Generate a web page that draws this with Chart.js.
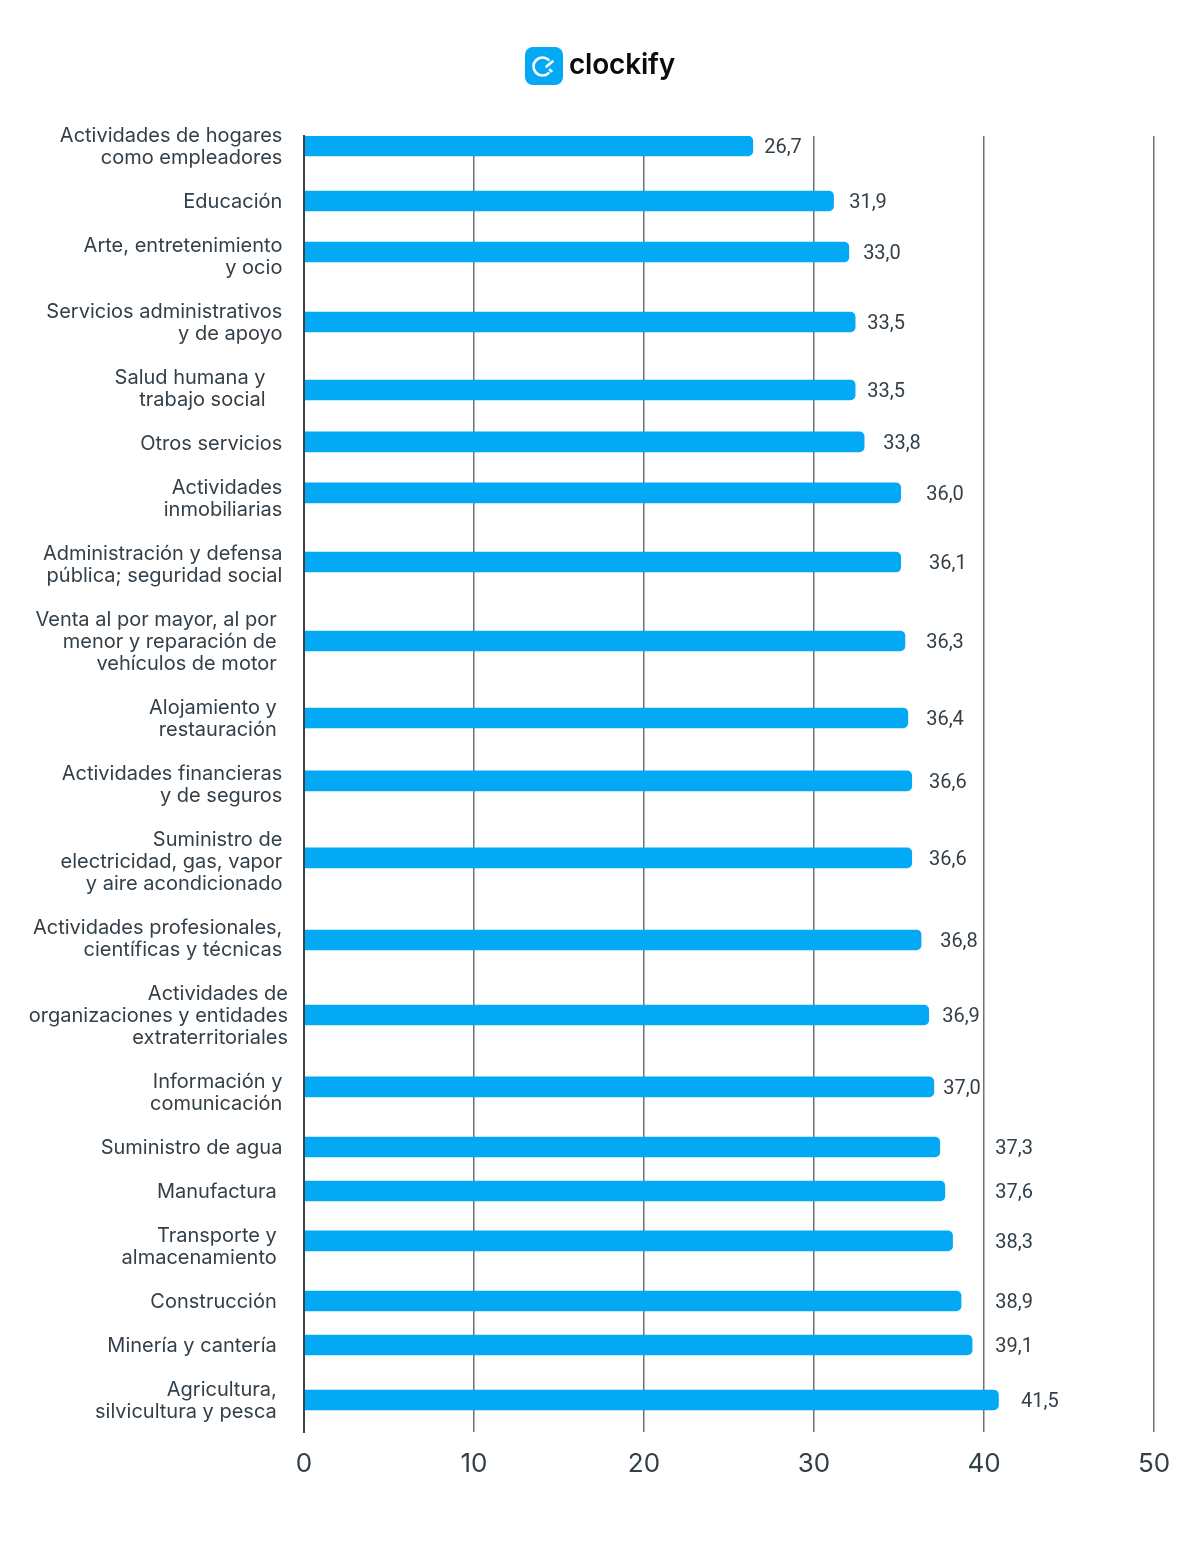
<!DOCTYPE html>
<html>
<head>
<meta charset="utf-8">
<title>Clockify</title>
<script src="https://cdn.jsdelivr.net/npm/chart.js@4"></script>
<style>
  html, body { margin: 0; padding: 0; background: #fff; }
  #wrap { position: relative; width: 1200px; height: 1548px; }
  #logo { position: absolute; left: 525px; top: 47px; width: 38px; height: 38px; }
  #brand { position: absolute; left: 569px; top: 45px; font: 600 28px/38px Inter, sans-serif; color: #0b0b0b; letter-spacing: -0.2px; }
</style>
</head>
<body>
<div id="wrap">
  <canvas id="hours" width="1200" height="1548"></canvas>
  <svg id="logo" viewBox="0 0 38 38">
    <rect width="38" height="38" rx="8" fill="#03a9f4"/>
    <path d="M23.5 12.8 A9 9 0 1 0 23.5 26.2" fill="none" stroke="#fff" stroke-width="2.6" stroke-linecap="round"/>
    <path d="M27.5 14.5 L21.5 19.5" fill="none" stroke="#fff" stroke-width="2.6" stroke-linecap="round"/>
    <path d="M25 23 L26.5 24.2" fill="none" stroke="#fff" stroke-width="2.6" stroke-linecap="round"/>
  </svg>
  <div id="brand">clockify</div>
</div>
<script>
const sectors = [
    ['Actividades de hogares', 'como empleadores'],
    ['Educación'],
    ['Arte, entretenimiento', 'y ocio'],
    ['Servicios administrativos', 'y de apoyo'],
    ['Salud humana y', 'trabajo social'],
    ['Otros servicios'],
    ['Actividades', 'inmobiliarias'],
    ['Administración y defensa', 'pública; seguridad social'],
    ['Venta al por mayor, al por', 'menor y reparación de', 'vehículos de motor'],
    ['Alojamiento y', 'restauración'],
    ['Actividades financieras', 'y de seguros'],
    ['Suministro de', 'electricidad, gas, vapor', 'y aire acondicionado'],
    ['Actividades profesionales,', 'científicas y técnicas'],
    ['Actividades de', 'organizaciones y entidades', 'extraterritoriales'],
    ['Información y', 'comunicación'],
    ['Suministro de agua'],
    ['Manufactura'],
    ['Transporte y', 'almacenamiento'],
    ['Construcción'],
    ['Minería y cantería'],
    ['Agricultura,', 'silvicultura y pesca']
];
// the printed numbers and the drawn bar lengths differ in the picture, so both are kept
const valueLabels = ['26,7', '31,9', '33,0', '33,5', '33,5', '33,8', '36,0', '36,1', '36,3', '36,4', '36,6',
    '36,6', '36,8', '36,9', '37,0', '37,3', '37,6', '38,3', '38,9', '39,1', '41,5'];
const barValues = [26.4, 31.15, 32.05, 32.42, 32.42, 32.95, 35.1, 35.1, 35.35, 35.52, 35.75,
    35.75, 36.3, 36.75, 37.05, 37.4, 37.7, 38.15, 38.65, 39.3, 40.85];
// where each bar sits on the row axis (one row = one text line)
const barRows = [0, 2.5, 4.82, 8, 11.09, 13.45, 15.77, 18.91, 22.5, 26, 28.86,
    32.36, 36.09, 39.5, 42.77, 45.5, 47.5, 49.77, 52.5, 54.5, 57];
// where each printed number starts on the value axis
const valueLabelAt = [27.07, 32.07, 32.89, 33.13, 33.13, 34.07, 36.6, 36.77, 36.6, 36.6, 36.77,
    36.77, 37.42, 37.54, 37.6, 40.66, 40.66, 40.66, 40.66, 40.66, 42.18];
// trailing spaces on the category labels
const labelIndent = [1, 1, 1, 1, 4, 1, 1, 1, 2, 2, 1, 1, 1, 0, 1, 1, 2, 2, 2, 2, 2];
const xTicks = [0, 10, 20, 30, 40, 50];

const textColor = '#333f48';

// label blocks stack one under the other with one empty line between them
const labelRows = [];
sectors.forEach((lines, i) => {
    if (i === 0) {
        labelRows.push(0);
    } else {
        labelRows.push(labelRows[i - 1] + (sectors[i - 1].length + lines.length) / 2 + 1);
    }
});

const valueText = {
    id: 'valueText',
    afterDatasetsDraw(chart) {
        const { ctx, scales } = chart;
        ctx.save();
        ctx.font = '20px Roboto, sans-serif';
        ctx.fillStyle = textColor;
        ctx.textAlign = 'left';
        ctx.textBaseline = 'middle';
        valueLabels.forEach((text, i) => {
            ctx.fillText(text, scales.x.getPixelForValue(valueLabelAt[i]), scales.y.getPixelForValue(barRows[i]) + 2);
        });
        ctx.restore();
    }
};

new Chart(document.getElementById('hours').getContext('2d'), {
    type: 'bar',
    data: {
        datasets: [{
            data: barValues.map((v, i) => ({ x: v, y: barRows[i] })),
            backgroundColor: '#03a9f4',
            barThickness: 20,
            borderSkipped: 'start',
            borderRadius: { topLeft: 0, bottomLeft: 0, topRight: 5, bottomRight: 5 }
        }]
    },
    options: {
        indexAxis: 'y',
        responsive: false,
        animation: false,
        layout: { padding: { left: 0, right: 46, top: 136, bottom: 16 } },
        plugins: { legend: { display: false }, tooltip: { enabled: false } },
        scales: {
            x: {
                type: 'linear',
                min: 0,
                max: 50,
                afterFit(scale) { scale.height = 100; },
                afterBuildTicks(scale) { scale.ticks = xTicks.map(v => ({ value: v })); },
                border: { display: false },
                grid: {
                    color: ctx => (ctx.index === 0 ? 'transparent' : '#6b7379'),
                    lineWidth: 1.5,
                    drawTicks: false
                },
                ticks: {
                    color: textColor,
                    padding: 17,
                    maxRotation: 0,
                    font: { family: 'Inter', size: 26 }
                }
            },
            y: {
                type: 'linear',
                offset: false,
                reverse: true,
                min: -10 / 22,
                max: 1286 / 22,
                afterFit(scale) { scale.width = 304; },
                afterBuildTicks(scale) { scale.ticks = labelRows.map(v => ({ value: v })); },
                border: { display: true, color: '#3a444c', width: 2, z: 1 },
                grid: { display: false },
                ticks: {
                    autoSkip: false,
                    color: textColor,
                    padding: 8,
                    labelOffset: 1,
                    font: { family: 'Inter', size: 20, lineHeight: '22px' },
                    callback(value, index) {
                        const pad = '\u00a0'.repeat(labelIndent[index]);
                        return sectors[index].map(line => line + pad);
                    }
                }
            }
        }
    },
    plugins: [valueText]
});
</script>
</body>
</html>
